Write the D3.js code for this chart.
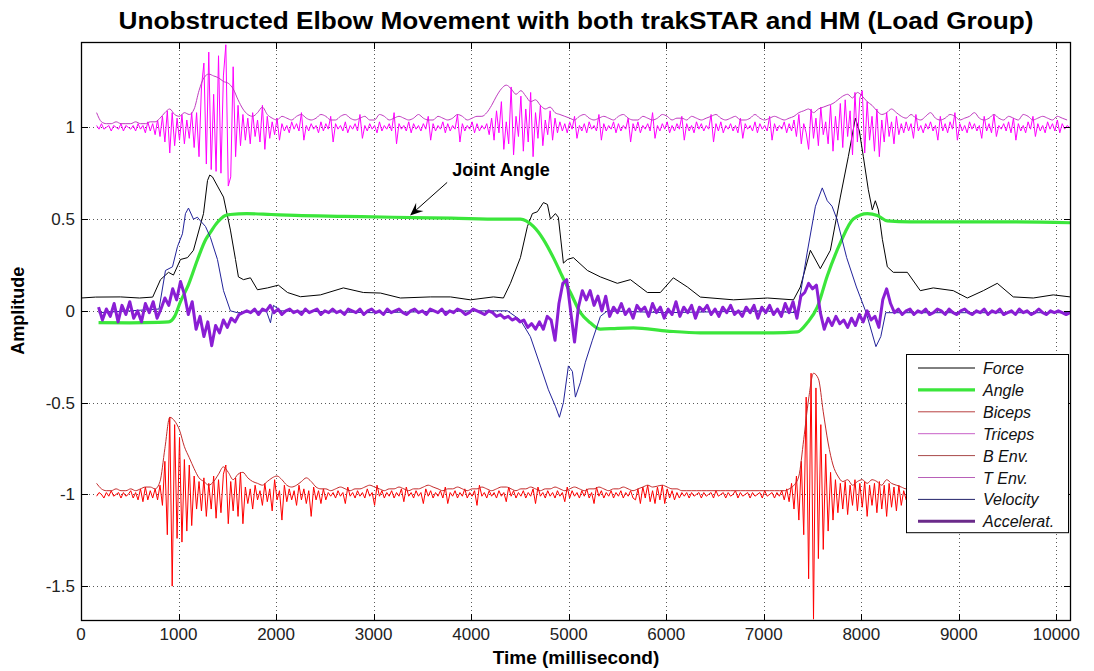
<!DOCTYPE html>
<html>
<head>
<meta charset="utf-8">
<script src="https://cdn.jsdelivr.net/npm/d3@7"></script>
<style>
  html, body { margin: 0; padding: 0; background: #fff; }
  svg { display: block; font-family: "Liberation Sans", Arial, Helvetica, sans-serif; }
</style>
</head>
<body>
<svg id="chart" width="1094" height="671"></svg>
<script>
// ---------- axis ticks ----------
const xTicks = [0, 1000, 2000, 3000, 4000, 5000, 6000, 7000, 8000, 9000, 10000];
const yTicks = [-1.5, -1, -0.5, 0, 0.5, 1];
const yTickLabels = ["-1.5", "-1", "-0.5", "0", "0.5", "1"];

// ---------- force (black) ----------
const forceTime = [0,150,405,600,735,815,897,948,1020,1092,1153,1256,1297,1320,1348,1399,1461,1532,1584,1614,1666,1737,1809,1912,2024,2117,2250,2455,2690,2895,3070,3275,3582,3788,3993,4228,4331,4403,4505,4577,4628,4679,4741,4782,4813,4864,4894,4946,4987,5048,5192,5325,5499,5633,5807,5940,6073,6217,6350,6690,7038,7305,7375,7478,7580,7683,7785,7867,7939,7980,8021,8072,8113,8144,8175,8216,8267,8328,8472,8605,8738,8943,9087,9251,9394,9558,9763,9968,10142];
const forceValue = [0.07,0.075,0.076,0.07,0.075,0.17,0.21,0.195,0.28,0.29,0.33,0.53,0.71,0.74,0.73,0.68,0.62,0.44,0.28,0.185,0.17,0.18,0.115,0.125,0.14,0.10,0.077,0.087,0.125,0.10,0.097,0.07,0.076,0.076,0.06,0.076,0.07,0.15,0.29,0.46,0.53,0.54,0.59,0.58,0.50,0.53,0.51,0.26,0.28,0.29,0.22,0.185,0.15,0.17,0.10,0.10,0.18,0.13,0.075,0.06,0.07,0.06,0.13,0.33,0.23,0.33,0.62,0.84,1.05,0.98,0.84,0.66,0.55,0.60,0.55,0.39,0.24,0.21,0.21,0.11,0.125,0.11,0.07,0.11,0.15,0.076,0.07,0.087,0.076];

// ---------- joint angle (green) ----------
const angleTime = [180,500,800,900,960,1020,1100,1195,1280,1330,1380,1430,1480,1530,1700,1950,2200,2700,3200,3800,4300,4505,4638,4740,4843,4915,4950,5018,5120,5222,5325,5500,5663,6012,6350,6800,7100,7344,7446,7549,7651,7785,7918,8062,8164,8267,8500,8738,9425,10142];
const angleValue = [-0.064,-0.065,-0.063,-0.06,-0.03,0.05,0.14,0.28,0.39,0.43,0.47,0.50,0.52,0.525,0.53,0.525,0.52,0.515,0.51,0.505,0.50,0.50,0.46,0.39,0.29,0.21,0.17,0.10,-0.01,-0.065,-0.10,-0.095,-0.093,-0.11,-0.12,-0.12,-0.12,-0.115,-0.065,0.02,0.19,0.37,0.50,0.53,0.52,0.49,0.485,0.485,0.485,0.48];

// ---------- EMG raw signals, sampled every 25 ms from 160 ms ----------
const emgStart = 160, emgStep = 25;
const bicepsValue = [
-1.01,-0.99,-1.00,-1.02,-0.99,-1.01,-0.98,-1.01,-1.00,-0.99,-1.02,-0.99,-1.01,-1.00,-0.98,-1.02,-0.99,
-1.03,-0.97,-1.04,-0.96,-1.03,-0.98,-1.02,-0.97,-1.03,
-0.95,-1.06,-0.82,-1.22,-0.58,-1.50,-0.62,-1.24,-0.69,-1.26,-0.81,-1.20,-0.84,-1.17,-0.90,-1.08,
-0.93,-1.09,-0.91,-1.12,-0.94,-1.08,-0.90,-1.13,-0.92,-1.10,-0.89,-0.84,-1.16,-0.93,-1.09,-0.91,-1.12,-0.88,-1.16,
-0.96,-1.05,-0.97,-1.08,-0.95,-1.03,-0.98,-1.06,-0.94,-1.04,
-0.97,-1.09,-0.92,-1.03,-0.98,-1.14,-0.95,-1.04,-0.97,-1.03,
-0.98,-1.06,-0.95,-1.03,-0.97,-1.05,-0.98,-1.12,-0.96,-1.03,
-0.98,-1.05,-0.97,-1.03,-0.99,
-1.01,-0.99,-1.02,-0.98,-1.01,-0.99,-1.05,-0.96,-1.01,-0.99,
-1.02,-0.98,-1.01,-0.99,-1.02,-0.97,-1.01,-0.99,-1.06,-0.95,
-1.01,-0.98,-1.02,-0.99,-1.01,-0.98,-1.02,-0.99,-1.01,-0.97,
-1.04,-0.96,-1.01,-0.99,-1.02,-0.98,-1.01,-0.99,-1.05,-0.97,
-1.01,-0.98,-1.02,-0.99,-1.01,-0.98,-1.02,-0.96,-1.05,-0.99,
-1.01,-0.98,-1.02,-0.99,-1.01,-0.97,-1.02,-0.99,-1.01,-0.98,
-1.06,-0.95,-1.01,-0.99,-1.02,-0.98,-1.01,-0.99,-1.02,-0.98,
-1.01,-0.99,-1.04,-0.96,-1.01,-0.98,-1.02,-0.99,-1.01,-0.98,
-1.02,-0.99,-1.01,-0.97,-1.05,-0.96,-1.01,-0.99,-1.02,-0.98,
-1.01,-0.99,-1.02,-0.98,-1.01,-0.99,-1.04,-0.96,-1.02,-0.98,
-1.01,-0.99,-1.02,-0.98,-1.01,-0.97,-1.02,-0.99,-1.05,-0.96,
-1.01,-0.98,-1.02,-0.99,-1.01,-0.98,-1.02,-0.99,-1.01,-0.98,
-1.02,-0.99,-1.01,-0.98,-1.02,
-1.03,-0.97,-1.05,-0.96,-1.02,-0.95,-1.04,-0.98,-1.05,-0.96,
-1.03,-0.95,-1.05,-0.97,-1.02,-0.98,-1.03,-0.99,-1.02,-0.99,
-1.01,-0.99,-1.02,-0.99,-1.01,-1.00,-0.99,-1.02,-0.99,-1.01,
-1.00,-0.99,-1.02,-0.98,-1.01,-1.00,-0.99,-1.02,-0.99,-1.01,
-1.00,-0.98,-1.02,-0.99,-1.01,-1.00,-0.99,-1.02,-0.99,-1.01,
-1.00,-0.99,-1.02,-0.98,-1.01,-1.00,-0.99,-1.02,-0.99,-1.01,
-0.98,-1.03,-0.97,-1.04,
-0.94,-1.08,-0.90,-1.14,-0.82,-1.22,-0.47,-1.46,-0.34,-1.68,
-0.42,-1.35,-0.62,-1.30,-0.78,-1.20,-0.88,-1.14,-0.92,-1.10,-0.94,
-1.08,-0.93,-1.11,-0.95,-1.06,-0.92,-1.09,-0.94,-1.07,-0.93,
-1.12,-0.95,-1.06,-0.94,-1.10,-0.93,-1.08,-0.95,-1.12,-0.94,
-1.07,-0.96,-1.09,-0.95,-1.06,
-0.98,-1.03,-0.97,-1.02,-0.99,-1.03,-0.98,-1.04,-0.97,-1.02,
-0.99,-1.03,-0.98,-1.02,-0.97,-1.03,-0.99,-1.04,-0.98,-1.02,
-0.97,-1.03,-0.99,-1.02,-0.98,-1.03,-0.97,-1.02,-0.99,-1.03,
-0.98,-1.02,-0.97,-1.04,-0.98,-1.02,-0.99,-1.03,-0.97,-1.02,
-0.98,-1.03,-0.99,-1.02,-0.97,-1.03,-0.98,-1.02,-0.99,-1.03,
-0.98,-1.02,-0.97,-1.03,-0.99,-1.02,-0.98,-1.03,-0.97,-1.02,
-0.99,-1.02,-0.98,-1.03,-0.99,-1.01,-0.99,-1.01,-1.00
];
const tricepsValue = [
1.01,0.99,1.02,0.99,1.00,1.01,0.98,1.01,1.00,0.99,
1.02,0.98,1.01,1.00,0.99,1.01,0.98,1.02,0.99,1.01,
0.97,1.03,0.98,1.02,0.96,1.04,
0.95,1.06,0.92,1.09,0.86,1.08,0.90,1.05,0.93,1.07,
0.91,1.04,0.94,1.08,0.89,
1.08,0.84,1.22,1.35,0.80,1.41,0.77,1.18,0.76,1.39,
0.75,1.28,1.45,0.68,0.73,1.33,0.84,1.12,0.90,
1.07,0.93,1.05,0.91,1.08,0.95,1.04,0.92,1.12,0.88,
1.06,0.94,1.03,0.96,1.05,0.93,
1.02,0.98,1.01,0.97,1.03,0.99,1.02,0.98,1.08,0.93,
1.01,0.98,1.02,0.99,1.01,0.97,1.03,0.98,1.02,0.99,
1.06,0.92,1.02,0.99,1.01,0.98,1.03,0.97,1.01,0.99,
1.02,0.98,1.07,0.94,1.01,0.98,1.02,0.99,1.01,0.97,
1.03,0.98,1.01,0.99,1.02,0.98,1.08,0.91,1.02,0.99,
1.01,0.98,1.03,0.97,1.02,0.99,1.01,0.98,1.02,0.99,
1.06,0.93,1.02,0.98,1.01,0.99,1.03,0.97,1.02,0.98,
1.01,0.99,1.07,0.92,1.02,0.98,1.01,0.99,1.03,0.97,
1.02,0.98,1.01,0.99,1.02,
0.96,1.05,0.93,1.09,0.97,1.14,0.88,1.03,0.91,1.22,
0.85,1.06,0.95,1.17,0.87,1.10,0.92,1.19,0.84,1.08,
0.94,1.12,0.90,1.04,0.96,1.09,0.93,1.05,0.97,1.03,
0.98,1.02,0.97,1.03,0.99,1.06,0.94,1.01,0.98,1.02,
0.97,1.03,0.99,1.01,0.98,1.07,0.93,1.02,0.98,1.01,
0.99,1.03,0.97,1.02,0.98,1.01,0.99,1.05,0.92,1.02,
0.98,1.03,0.97,1.01,0.99,1.02,0.98,1.08,0.94,1.01,
0.98,1.02,0.99,1.03,0.97,1.01,0.98,1.02,0.99,1.06,
0.93,1.02,0.98,1.01,0.97,1.03,0.99,1.02,0.98,1.01,
0.99,1.07,0.92,1.02,0.98,1.03,0.97,1.01,0.99,1.02,
0.98,1.01,0.97,1.05,0.94,1.02,0.99,1.01,0.98,1.03,
0.97,1.02,0.99,1.01,0.98,1.06,0.93,1.02,0.98,1.01,
0.99,1.03,0.97,1.02,0.98,
1.04,0.95,1.07,0.91,1.02,0.97,0.88,1.10,0.94,1.05,
0.90,1.11,0.96,1.03,0.91,1.12,0.87,1.06,0.93,1.13,
0.89,1.15,0.95,1.09,0.85,1.19,0.92,1.16,1.20,0.86,
1.14,0.93,1.06,0.87,1.10,0.84,1.04,0.92,1.08,0.95,
1.03,0.91,1.06,0.96,1.02,
0.97,1.03,0.98,1.02,0.94,1.07,0.98,1.01,0.97,1.02,
0.99,1.03,0.98,1.01,0.93,1.06,0.98,1.02,0.97,1.03,
0.99,1.08,0.93,1.02,0.98,1.01,0.97,1.03,0.99,1.02,
0.98,1.01,0.94,1.06,0.98,1.02,0.97,1.07,0.95,1.01,
0.99,1.02,0.98,1.03,0.97,1.05,0.93,1.02,0.98,1.01,
0.97,1.03,0.99,1.06,0.95,1.02,0.98,1.01,0.97,1.03,
0.99,1.02,0.98,1.04,0.97,1.02,0.99,1.01,1.00
];

// ---------- EMG envelopes, sampled every 50 ms from 160 ms ----------
const envStart = 160, envStep = 50;
const bEnvValue = [
-0.94,-0.97,-0.98,-0.98,-0.97,-0.98,-0.98,-0.97,-0.98,-0.97,
-0.96,-0.96,-0.97,-0.93,-0.75,-0.58,-0.60,-0.65,-0.74,-0.80,
-0.86,-0.91,-0.93,-0.95,-0.93,-0.89,-0.85,-0.88,-0.92,-0.89,
-0.88,-0.91,-0.93,-0.94,-0.95,-0.93,-0.91,-0.90,-0.92,-0.95,
-0.96,-0.95,-0.93,-0.91,-0.93,-0.96,-0.97,
-0.97,-0.98,-0.97,-0.96,-0.97,-0.98,-0.97,-0.97,-0.96,-0.95,
-0.96,-0.97,-0.98,-0.97,-0.97,-0.96,-0.97,-0.98,-0.97,-0.97,
-0.96,-0.95,-0.96,-0.97,-0.98,-0.97,-0.97,-0.96,-0.97,-0.98,
-0.97,-0.97,-0.96,-0.97,-0.98,-0.97,-0.96,-0.96,-0.97,-0.98,
-0.97,-0.97,-0.96,-0.97,-0.98,-0.97,-0.97,-0.96,-0.97,-0.98,
-0.97,-0.96,-0.97,-0.98,-0.97,-0.97,-0.96,-0.97,-0.98,-0.97,
-0.97,-0.96,-0.97,-0.98,
-0.97,-0.96,-0.95,-0.96,-0.955,-0.95,-0.96,-0.97,-0.97,-0.98,-0.98,
-0.98,-0.98,-0.98,-0.98,-0.98,-0.98,-0.98,-0.98,-0.98,-0.98,
-0.98,-0.98,-0.98,-0.98,-0.98,-0.98,-0.98,-0.98,-0.98,-0.98,-0.97,
-0.95,-0.90,-0.70,-0.48,-0.34,-0.37,-0.55,-0.72,-0.84,-0.90,
-0.93,-0.92,-0.95,-0.93,-0.92,-0.94,-0.92,-0.93,-0.95,-0.92,-0.94,-0.95,-0.96,
-0.97,-0.96,-0.97,-0.97,-0.96,-0.97,-0.97,-0.96,-0.97,-0.97,
-0.97,-0.96,-0.97,-0.97,-0.96,-0.97,-0.97,-0.97,-0.96,-0.97,
-0.97,-0.96,-0.97,-0.97,-0.97,-0.96,-0.97,-0.97,-0.96,-0.97,
-0.97,-0.97,-0.96,-0.97
];
const tEnvValue = [
1.08,1.03,1.02,1.02,1.03,1.02,1.02,1.02,1.03,1.02,1.02,1.03,
1.03,1.05,1.08,1.10,1.07,1.06,1.08,1.07,1.10,1.20,
1.27,1.29,1.28,1.27,1.25,1.24,1.21,1.15,1.10,1.07,
1.06,1.08,1.11,1.07,1.05,1.04,1.06,1.05,
1.04,1.06,1.07,1.05,1.04,1.05,1.07,1.06,1.04,1.04,
1.06,1.07,1.05,1.04,1.05,1.06,1.04,1.04,1.07,1.06,
1.04,1.05,1.06,1.05,1.04,1.05,1.07,1.05,1.04,1.04,
1.06,1.05,1.04,1.05,1.07,1.06,1.04,1.05,1.06,
1.06,1.08,1.12,1.17,1.21,1.23,1.21,1.18,1.20,1.17,
1.14,1.15,1.12,1.10,1.11,1.08,1.07,1.06,
1.05,1.04,1.06,1.07,1.05,1.04,1.05,1.06,1.05,1.04,
1.06,1.07,1.05,1.04,1.04,1.06,1.05,1.04,1.05,1.07,
1.06,1.04,1.05,1.05,1.04,1.06,1.05,1.04,1.05,1.06,
1.07,1.05,1.04,1.05,1.06,1.04,1.04,1.05,1.07,1.05,
1.04,1.05,1.06,1.05,1.04,1.05,
1.06,1.08,1.09,1.10,1.08,1.10,1.11,1.12,1.13,1.15,
1.17,1.18,1.16,1.19,1.17,1.14,1.12,1.09,1.07,1.08,1.10,1.08,1.06,
1.05,1.07,1.05,1.04,1.06,1.08,1.05,1.04,1.05,1.07,
1.06,1.04,1.05,1.06,1.08,1.05,1.04,1.05,1.07,1.05,
1.04,1.06,1.05,1.04,1.07,1.06,1.04,1.05,1.06,1.05,
1.04,1.06,1.05,1.04
];

// ---------- velocity (blue) ----------
const velocityTime = [180,500,800,866,938,989,1040,1071,1102,1153,1194,1225,1276,1327,1399,1461,1532,1604,1900,1943,1973,2050,3000,4000,4372,4505,4607,4710,4792,4864,4905,4946,4997,5038,5069,5120,5171,5243,5325,5397,6000,7000,7344,7446,7530,7600,7651,7700,7750,7850,7950,8050,8150,8200,8250,8400,10142];
const velocityValue = [-0.01,0.0,0.01,0.22,0.24,0.35,0.42,0.53,0.56,0.50,0.51,0.49,0.46,0.40,0.28,0.11,0.0,-0.01,0.0,-0.065,0.03,0.0,-0.01,0.0,0.0,-0.05,-0.14,-0.30,-0.43,-0.52,-0.58,-0.50,-0.30,-0.33,-0.47,-0.39,-0.28,-0.16,-0.03,0.0,-0.01,0.0,-0.01,0.32,0.57,0.67,0.60,0.57,0.50,0.29,0.13,-0.01,-0.195,-0.14,-0.01,-0.01,-0.01];

// ---------- acceleration (purple), sampled every 40 ms from 180 ms ----------
const accStart = 180, accStep = 40;
const accelerationValue = [
0.02,-0.05,0.01,-0.03,0.04,-0.06,0.03,-0.02,0.05,-0.04,0.00,-0.06,0.04,-0.01,0.05,-0.04,
0.01,0.07,0.03,0.12,0.06,0.16,0.09,
-0.02,0.05,-0.10,-0.03,-0.14,-0.06,-0.19,-0.08,-0.12,-0.05,-0.09,-0.04,-0.06,-0.02,-0.01,
0.00,-0.01,0.01,-0.02,0.01,0.00,0.03,-0.01,0.01,-0.02,
0.00,0.01,-0.01,0.00,-0.02,0.01,-0.01,0.00,0.01,-0.02,
0.00,-0.01,0.01,-0.01,0.00,-0.02,0.01,0.00,-0.01,0.01,
-0.02,0.00,0.01,-0.01,0.00,-0.02,0.01,-0.01,0.00,0.01,
-0.01,-0.02,0.00,0.01,-0.01,0.00,-0.02,0.01,0.00,-0.01,
0.01,-0.02,0.00,-0.01,0.01,0.00,-0.02,-0.01,0.01,0.00,
-0.01,-0.02,0.00,-0.01,-0.03,-0.02,-0.04,-0.03,-0.05,-0.04,
-0.06,-0.05,-0.09,-0.07,-0.10,-0.06,-0.10,-0.03,-0.05,-0.16,0.04,0.15,0.17,0.00,-0.17,0.02,0.11,0.06,
0.11,0.03,0.08,0.00,0.08,
-0.03,0.02,-0.01,0.04,-0.02,0.01,-0.04,0.03,0.00,0.02,
-0.03,0.04,-0.01,0.02,-0.04,0.01,-0.02,0.05,-0.03,0.02,
-0.01,0.03,-0.04,0.02,0.00,0.03,-0.02,0.01,-0.03,0.02,
-0.01,0.03,-0.02,0.00,-0.03,0.02,-0.01,0.03,-0.04,0.02,
-0.01,0.03,-0.02,0.01,-0.03,0.04,-0.01,
0.05,-0.04,0.08,0.10,0.15,0.12,0.14,-0.01,-0.10,-0.04,-0.08,-0.03,-0.07,
-0.05,-0.09,-0.04,-0.08,-0.02,-0.06,0.00,-0.05,-0.03,-0.09,0.06,0.12,0.04,-0.01,0.01,-0.02,0.00,
0.01,-0.02,0.00,-0.01,0.01,-0.02,-0.01,0.01,0.00,-0.02,
0.01,-0.01,-0.02,0.00,0.01,-0.01,-0.02,0.00,-0.01,0.01,
-0.02,0.00,-0.01,0.01,-0.02,-0.01,0.00,-0.02,0.01,-0.01,
0.00,-0.02,-0.01,0.01,-0.01,-0.02,0.00,-0.01,0.00,-0.01,-0.02,-0.01
];

// ---------- legend and annotation text ----------
const legendLabels = ["Force", "Angle", "Biceps", "Triceps", "B Env.", "T Env.", "Velocity", "Accelerat."];
const noteText = "Joint Angle";
const noteTextAt = [4306, 0.768];
const noteArrowFrom = [3754, 0.70];
const noteArrowTo = [3374, 0.52];

// ---------- build point lists ----------
const zipPairs = (ts, vs) => vs.map((v, i) => [ts[i], v]);
const sampled = (start, step, vs) => vs.map((v, i) => [start + i * step, v]);

const series = [
  { name: "Force",      pts: zipPairs(forceTime, forceValue),           color: "#000000", width: 1,   curve: d3.curveLinear },
  { name: "Angle",      pts: zipPairs(angleTime, angleValue),           color: "#3be63b", width: 3.2, curve: d3.curveMonotoneX },
  { name: "Biceps",     pts: sampled(emgStart, emgStep, bicepsValue),   color: "#ff0000", width: 1,   curve: d3.curveLinear },
  { name: "Triceps",    pts: sampled(emgStart, emgStep, tricepsValue),  color: "#ff00ff", width: 1,   curve: d3.curveLinear },
  { name: "B Env.",     pts: sampled(envStart, envStep, bEnvValue),     color: "#c42a2a", width: 1,   curve: d3.curveMonotoneX },
  { name: "T Env.",     pts: sampled(envStart, envStep, tEnvValue),     color: "#c03cc0", width: 1,   curve: d3.curveMonotoneX },
  { name: "Velocity",   pts: zipPairs(velocityTime, velocityValue),     color: "#22229a", width: 1,   curve: d3.curveLinear },
  { name: "Accelerat.", pts: sampled(accStart, accStep, accelerationValue), color: "#8a1ed4", width: 3, curve: d3.curveLinear }
];
const legendStyle = {
  "Force": "#000000", "Angle": "#3be63b", "Biceps": "#b84040", "Triceps": "#c860c8",
  "B Env.": "#a84848", "T Env.": "#b860b8", "Velocity": "#22226a", "Accelerat.": "#6a2a8a"
};

// ---------- layout ----------
const svg = d3.select("#chart");
const plot = { left: 81, right: 1071, top: 42, bottom: 621 };
const x = d3.scaleLinear().domain([0, 10150]).range([plot.left, plot.right]);
const y = d3.scaleLinear().domain([-1.69, 1.465]).range([plot.bottom, plot.top]);

svg.append("rect").attr("width", 1094).attr("height", 671).attr("fill", "#fff");

svg.append("defs").append("clipPath").attr("id", "plotClip")
  .append("rect")
  .attr("x", plot.left).attr("y", plot.top)
  .attr("width", plot.right - plot.left).attr("height", plot.bottom - plot.top);

// dotted grid
const grid = svg.append("g").attr("stroke", "#222").attr("stroke-width", 1)
  .attr("stroke-dasharray", "1,3").attr("opacity", 0.75);
grid.selectAll("line.vg").data(xTicks.filter(t => t > 0)).join("line")
  .attr("x1", d => Math.round(x(d)) + 0.5).attr("x2", d => Math.round(x(d)) + 0.5)
  .attr("y1", plot.top).attr("y2", plot.bottom);
grid.selectAll("line.hg").data(yTicks).join("line")
  .attr("y1", d => Math.round(y(d)) + 0.5).attr("y2", d => Math.round(y(d)) + 0.5)
  .attr("x1", plot.left).attr("x2", plot.right);

// data lines
const linesG = svg.append("g").attr("clip-path", "url(#plotClip)");
series.forEach(s => {
  const gen = d3.line().x(d => x(d[0])).y(d => y(d[1])).curve(s.curve);
  linesG.append("path")
    .attr("d", gen(s.pts))
    .attr("fill", "none")
    .attr("stroke", s.color)
    .attr("stroke-width", s.width)
    .attr("stroke-linejoin", "round");
});

// frame and inward ticks (all four sides)
const tickLen = 7;
const axesG = svg.append("g").attr("stroke", "#000").attr("stroke-width", 1);
axesG.append("rect")
  .attr("x", plot.left + 0.5).attr("y", plot.top + 0.5)
  .attr("width", plot.right - plot.left - 1).attr("height", plot.bottom - plot.top - 1)
  .attr("fill", "none").attr("stroke-width", 1.3);
xTicks.forEach(t => {
  const px = Math.round(x(t)) + 0.5;
  axesG.append("line").attr("x1", px).attr("x2", px).attr("y1", plot.bottom).attr("y2", plot.bottom - tickLen);
  axesG.append("line").attr("x1", px).attr("x2", px).attr("y1", plot.top).attr("y2", plot.top + tickLen);
});
yTicks.forEach(v => {
  const py = Math.round(y(v)) + 0.5;
  axesG.append("line").attr("y1", py).attr("y2", py).attr("x1", plot.left).attr("x2", plot.left + tickLen);
  axesG.append("line").attr("y1", py).attr("y2", py).attr("x1", plot.right).attr("x2", plot.right - tickLen);
});

// tick labels
svg.append("g").selectAll("text").data(xTicks).join("text")
  .attr("x", d => x(d)).attr("y", plot.bottom + 19)
  .attr("text-anchor", "middle").attr("font-size", 17).attr("fill", "#222")
  .text(d => String(d));
svg.append("g").selectAll("text").data(yTicks).join("text")
  .attr("x", plot.left - 6).attr("y", d => y(d) + 6)
  .attr("text-anchor", "end").attr("font-size", 17).attr("fill", "#222")
  .text((d, i) => yTickLabels[i]);

// axis titles and chart title
svg.append("text")
  .attr("x", (plot.left + plot.right) / 2).attr("y", 29)
  .attr("text-anchor", "middle").attr("font-size", 24).attr("font-weight", "bold")
  .attr("textLength", 915).attr("lengthAdjust", "spacingAndGlyphs")
  .text("Unobstructed Elbow Movement with both trakSTAR and HM (Load Group)");
svg.append("text")
  .attr("x", 576).attr("y", 664)
  .attr("text-anchor", "middle").attr("font-size", 19).attr("font-weight", "bold")
  .text("Time (millisecond)");
svg.append("text")
  .attr("transform", `translate(24, ${y(0)}) rotate(-90)`)
  .attr("text-anchor", "middle").attr("font-size", 18).attr("font-weight", "bold")
  .text("Amplitude");

// annotation with arrow
const tipX = x(noteArrowTo[0]), tipY = y(noteArrowTo[1]);
const tailX = x(noteArrowFrom[0]), tailY = y(noteArrowFrom[1]);
const ang = Math.atan2(tipY - tailY, tipX - tailX);
const headLen = 13, headHalf = 5.5, notch = 8;
const ux = Math.cos(ang), uy = Math.sin(ang), nx = -uy, ny = ux;
svg.append("line")
  .attr("x1", tailX).attr("y1", tailY)
  .attr("x2", tipX - ux * notch).attr("y2", tipY - uy * notch)
  .attr("stroke", "#000").attr("stroke-width", 1);
svg.append("path")
  .attr("d", d3.line()([
    [tipX, tipY],
    [tipX - ux * headLen + nx * headHalf, tipY - uy * headLen + ny * headHalf],
    [tipX - ux * notch, tipY - uy * notch],
    [tipX - ux * headLen - nx * headHalf, tipY - uy * headLen - ny * headHalf]
  ]) + "Z")
  .attr("fill", "#000");
svg.append("text")
  .attr("x", x(noteTextAt[0])).attr("y", y(noteTextAt[1]) + 6)
  .attr("text-anchor", "middle").attr("font-size", 18).attr("font-weight", "bold")
  .text(noteText);

// legend
const lg = { left: 906, top: 354, width: 162, rowH: 21.9, firstRow: 368 };
const legendG = svg.append("g");
legendG.append("rect")
  .attr("x", lg.left + 0.5).attr("y", lg.top + 0.5)
  .attr("width", lg.width).attr("height", lg.rowH * legendLabels.length + 3)
  .attr("fill", "#fff").attr("stroke", "#000").attr("stroke-width", 1);
legendLabels.forEach((name, i) => {
  const s = series.find(d => d.name === name);
  const ry = lg.firstRow + i * lg.rowH;
  legendG.append("line")
    .attr("x1", lg.left + 12).attr("x2", lg.left + 69)
    .attr("y1", ry).attr("y2", ry)
    .attr("stroke", legendStyle[name]).attr("stroke-width", s.width);
  legendG.append("text")
    .attr("x", lg.left + 77).attr("y", ry + 6)
    .attr("font-size", 16).attr("font-style", "italic").attr("fill", "#111")
    .text(name);
});
</script>
</body>
</html>
